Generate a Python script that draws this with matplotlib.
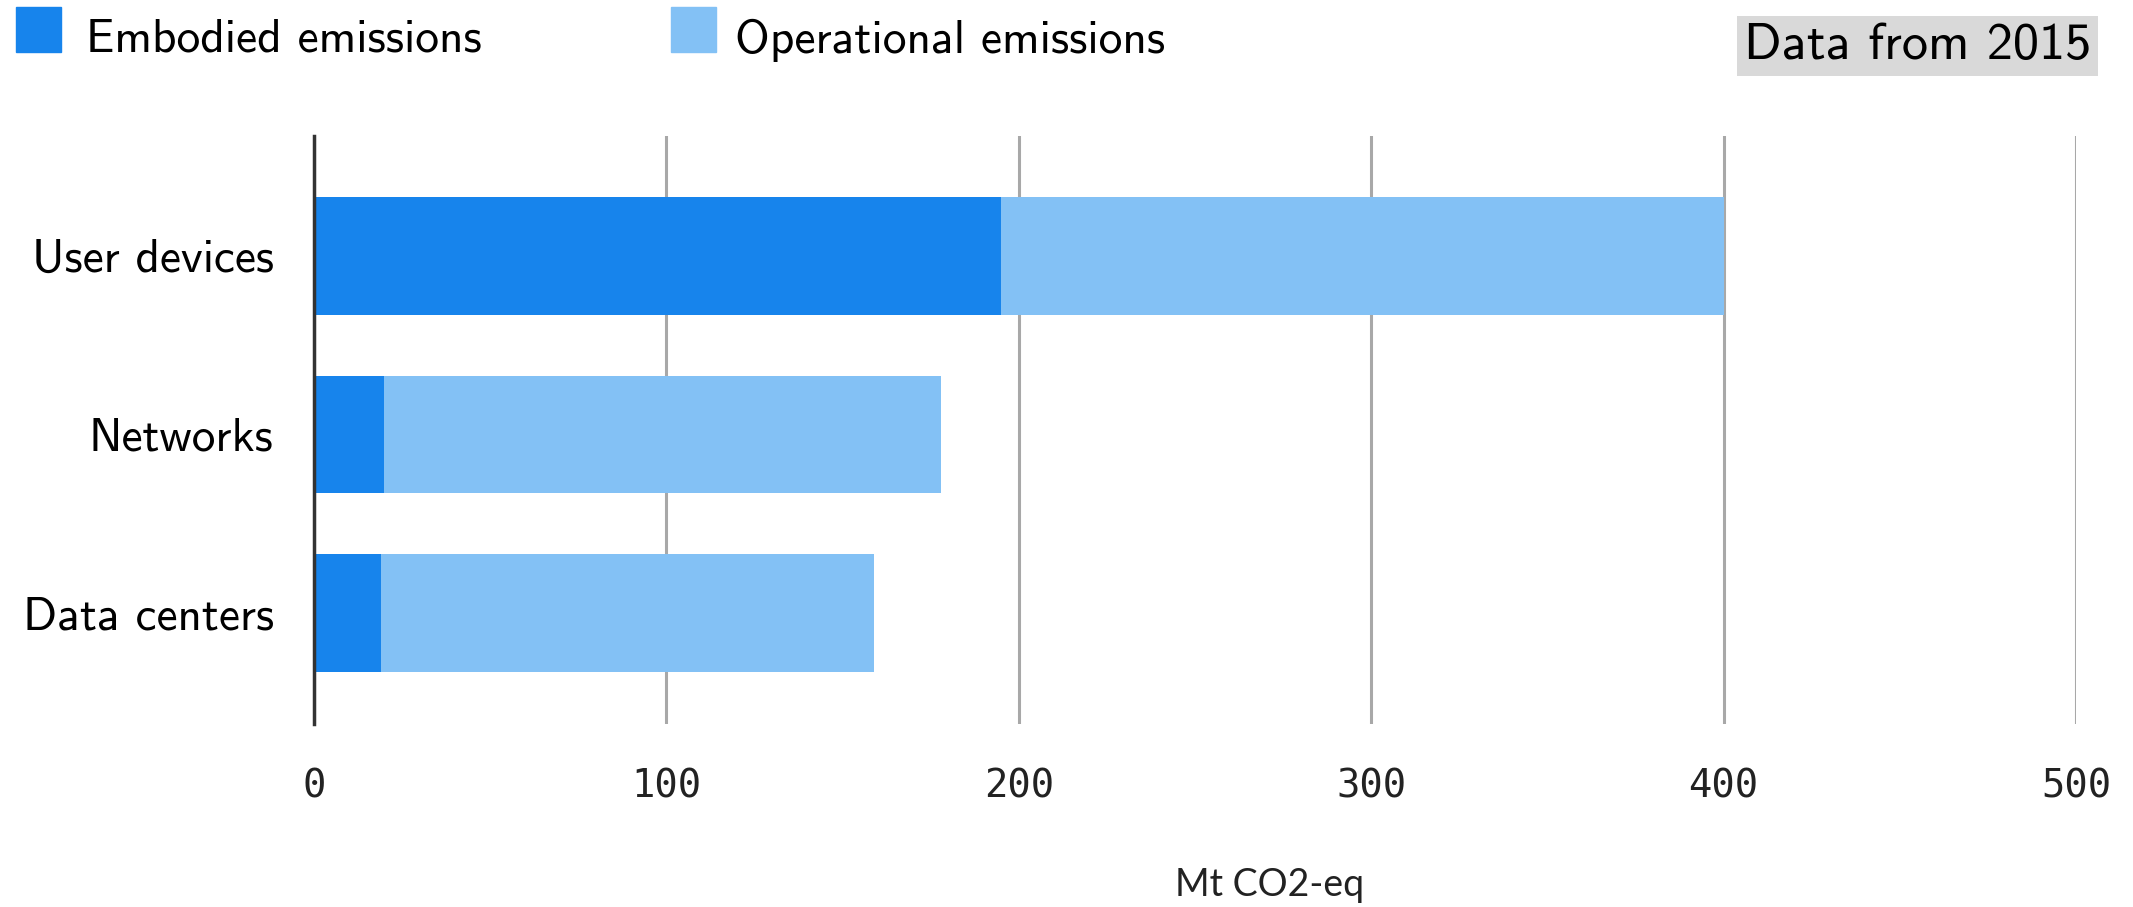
import matplotlib
matplotlib.use("Agg")
import matplotlib.pyplot as plt
from matplotlib.patches import Rectangle

# values (Mt CO2-eq, 2015)
categories = ["User devices", "Networks", "Data centers"]
embodied = [195, 20, 19]
operational = [205, 158, 140]
x_ticks = [0, 100, 200, 300, 400, 500]

c_emb = "#1784EC"
c_op = "#83C1F5"

fig = plt.figure(figsize=(21.33, 9.07), dpi=100)
ax = fig.add_axes([0.1472, 0.2018, 0.8261, 0.6482])

ypos = list(range(len(categories)))
ax.barh(ypos, embodied, height=0.66, color=c_emb, zorder=3)
ax.barh(ypos, operational, left=embodied, height=0.66, color=c_op, zorder=3)

ax.set_xlim(0, 500)
ax.set_ylim(2.62, -0.67)
ax.set_xticks(x_ticks)
ax.set_xticklabels([str(t) for t in x_ticks], family="DejaVu Sans Mono", fontsize=28, color="#222222")
ax.set_yticks(ypos)
ax.set_yticklabels(categories, family="cmss10", fontsize=34)
ax.tick_params(axis="both", length=0)
ax.tick_params(axis="x", pad=31)
ax.tick_params(axis="y", pad=29)

ax.grid(axis="x", color="#a8a8a8", linewidth=2.2, zorder=0)
for s in ["top", "right", "bottom"]:
    ax.spines[s].set_visible(False)
ax.spines["left"].set_color("#333333")
ax.spines["left"].set_linewidth(2.5)
ax.spines["left"].set_zorder(4)

fig.text(0.595, 0.004, "Mt CO2-eq", family="Lato", fontsize=27, ha="center", va="bottom", color="#222222")

# legend drawn by hand at the top
fig.add_artist(Rectangle((16 / 2133, 1 - 52 / 907), 45 / 2133, 45 / 907, transform=fig.transFigure, color=c_emb))
fig.text(86 / 2133, 1 - 40 / 907, "Embodied emissions", family="cmss10", fontsize=34.2, va="center")
fig.add_artist(Rectangle((671 / 2133, 1 - 52 / 907), 45 / 2133, 45 / 907, transform=fig.transFigure, color=c_op))
fig.text(735 / 2133, 1 - 40 / 907, "Operational emissions", family="cmss10", fontsize=34.2, va="center")

fig.text(0.9805, 1 - 46 / 907, "Data from 2015", family="cmss10", fontsize=37.6, ha="right", va="center",
         bbox=dict(facecolor="#d9d9d9", edgecolor="none", pad=5))

fig.savefig("out.png", dpi=100)
